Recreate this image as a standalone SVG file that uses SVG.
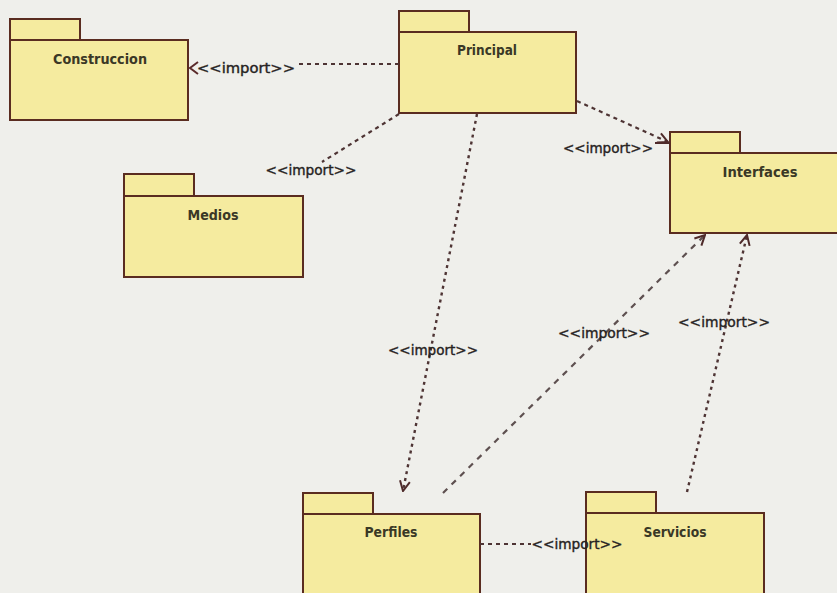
<svg xmlns="http://www.w3.org/2000/svg" width="837" height="593" viewBox="0 0 837 593">
  <style>
    .tab, .body { fill: #f5eb9f; stroke: #5a2c20; stroke-width: 2; }
    .name { font-family: "DejaVu Sans Condensed", "DejaVu Sans", sans-serif; font-weight: bold; font-size: 14px; fill: #3a3826; text-anchor: middle; }
    .lbl { font-family: "DejaVu Sans Condensed", "DejaVu Sans", sans-serif; font-size: 14px; fill: #262222; stroke: #262222; stroke-width: 0.35; text-anchor: middle; }
    .dep { fill: none; stroke: #4e3434; stroke-width: 2.2; stroke-dasharray: 4 4; }
    .dot { fill: none; stroke: #4e3434; stroke-width: 2.4; stroke-dasharray: 3 4; }
    .long { fill: none; stroke: #5e5050; stroke-width: 2.2; stroke-dasharray: 6 6; }
    .head { fill: none; stroke: #5a2a2a; stroke-width: 2; }
  </style>
  <defs>
    <marker id="open" viewBox="0 0 12 12" refX="11" refY="6" markerWidth="12" markerHeight="12" markerUnits="userSpaceOnUse" orient="auto">
      <path d="M1,1 L11,6 L1,11" fill="none" stroke="#4e2a2a" stroke-width="2"/>
    </marker>
  </defs>

  <rect x="0" y="0" width="837" height="593" fill="#efefeb"/>

  <!-- packages -->
  <g id="construccion">
    <rect class="tab" x="10" y="19" width="70" height="21"/>
    <rect class="body" x="10" y="40" width="178" height="80"/>
    <text class="name" x="100" y="64" textLength="94" lengthAdjust="spacingAndGlyphs">Construccion</text>
  </g>
  <g id="principal">
    <rect class="tab" x="399" y="11" width="70" height="21"/>
    <rect class="body" x="399" y="32" width="177" height="81"/>
    <text class="name" x="487" y="55" textLength="60" lengthAdjust="spacingAndGlyphs">Principal</text>
  </g>
  <g id="medios">
    <rect class="tab" x="124" y="174" width="70" height="22"/>
    <rect class="body" x="124" y="196" width="179" height="81"/>
    <text class="name" x="213" y="220" textLength="51" lengthAdjust="spacingAndGlyphs">Medios</text>
  </g>
  <g id="interfaces">
    <rect class="tab" x="670" y="132" width="70" height="21"/>
    <rect class="body" x="670" y="153" width="180" height="80"/>
    <text class="name" x="760" y="177" textLength="75" lengthAdjust="spacingAndGlyphs">Interfaces</text>
  </g>
  <g id="perfiles">
    <rect class="tab" x="303" y="493" width="70" height="21"/>
    <rect class="body" x="303" y="514" width="177" height="90"/>
    <text class="name" x="391" y="537" textLength="53" lengthAdjust="spacingAndGlyphs">Perfiles</text>
  </g>
  <g id="servicios">
    <rect class="tab" x="586" y="492" width="70" height="21"/>
    <rect class="body" x="586" y="513" width="178" height="90"/>
    <text class="name" x="675" y="537" textLength="63" lengthAdjust="spacingAndGlyphs">Servicios</text>
  </g>

  <!-- import dependencies -->
  <g id="connectors">
    <!-- Principal to Construccion -->
    <path class="dep" d="M399,64 L296,64"/>
    <path class="head" d="M198,62 L190,68 L198,74" stroke="#8a3a32"/>
    <text class="lbl" x="246" y="73" textLength="98" lengthAdjust="spacingAndGlyphs">&lt;&lt;import&gt;&gt;</text>

    <!-- Principal to Medios label -->
    <path class="dep" d="M399,114 L322,162"/>
    <text class="lbl" x="311" y="175" textLength="91" lengthAdjust="spacingAndGlyphs">&lt;&lt;import&gt;&gt;</text>

    <!-- Principal to Perfiles -->
    <path class="dot" d="M477,114 L403,491" marker-end="url(#open)"/>
    <text class="lbl" x="433" y="355" textLength="90" lengthAdjust="spacingAndGlyphs">&lt;&lt;import&gt;&gt;</text>

    <!-- Principal to Interfaces -->
    <path class="dep" d="M577,101 L668,142" marker-end="url(#open)"/>
    <path d="M655,143 L670,143" stroke="#4e2a2a" stroke-width="2"/>
    <text class="lbl" x="608" y="153" textLength="90" lengthAdjust="spacingAndGlyphs">&lt;&lt;import&gt;&gt;</text>

    <!-- Perfiles to Interfaces -->
    <path class="long" d="M443,493 L705,235" marker-end="url(#open)"/>
    <text class="lbl" x="604" y="338" textLength="92" lengthAdjust="spacingAndGlyphs">&lt;&lt;import&gt;&gt;</text>

    <!-- Servicios to Interfaces -->
    <path class="dot" d="M687,492 L747,235" marker-end="url(#open)"/>
    <text class="lbl" x="724" y="327" textLength="92" lengthAdjust="spacingAndGlyphs">&lt;&lt;import&gt;&gt;</text>

    <!-- Perfiles and Servicios -->
    <path class="dep" d="M480,544 L531,544"/>
    <text class="lbl" x="577" y="549" textLength="91" lengthAdjust="spacingAndGlyphs">&lt;&lt;import&gt;&gt;</text>
  </g>
</svg>
